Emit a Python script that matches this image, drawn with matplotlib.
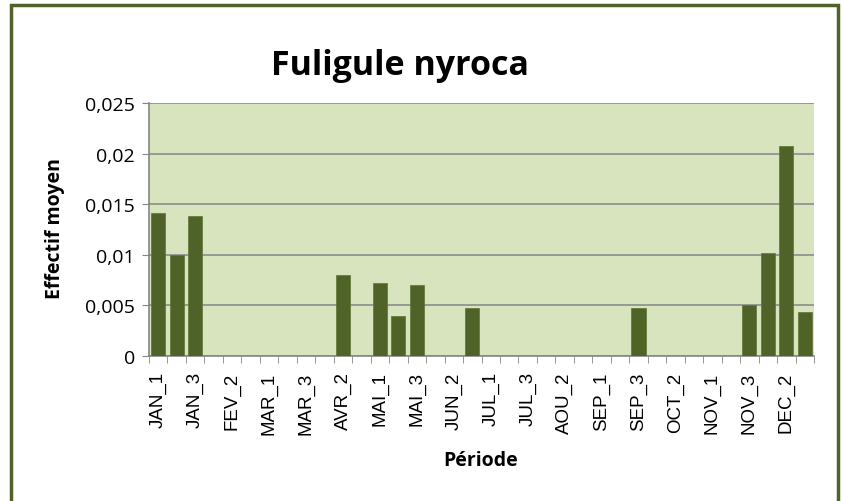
import numpy as np
import matplotlib.pyplot as plt
from matplotlib.patches import Rectangle

### données
mois = ["JAN", "FEV", "MAR", "AVR", "MAI", "JUN", "JUL", "AOU", "SEP", "OCT", "NOV", "DEC"]
periodes = [m + "_" + str(d) for m in mois for d in (1, 2, 3)]
effectif = [0.0141, 0.0100, 0.0138,   # JAN
            0, 0, 0,                  # FEV
            0, 0, 0,                  # MAR
            0, 0.0080, 0,             # AVR
            0.0072, 0.0040, 0.0070,   # MAI
            0, 0, 0.0047,             # JUN
            0, 0, 0,                  # JUL
            0, 0, 0,                  # AOU
            0, 0, 0.0047,             # SEP
            0, 0, 0,                  # OCT
            0, 0, 0.0050,             # NOV
            0.0102, 0.0208, 0.0043]   # DEC
yticks = [0, 0.005, 0.01, 0.015, 0.02, 0.025]
ytick_labels = ["0", "0,005", "0,01", "0,015", "0,02", "0,025"]

### figure
font = ["Open Sans", "DejaVu Sans"]
fig = plt.figure(figsize=(8.43, 5.02), dpi=100)
fig.patches.append(Rectangle((11 / 843, -0.05), 827 / 843, 1.05 - 6 / 502,
                             transform=fig.transFigure, fill=False,
                             edgecolor="#4F6228", linewidth=2.5))

ax = fig.add_axes([149 / 843, 145 / 502, 665 / 843, 253 / 502])
ax.set_facecolor("#D7E4BD")
x = np.arange(len(periodes))
ax.bar(x, effectif, width=0.76, color="#4F6228", edgecolor="#5E7530", linewidth=0.5, zorder=3)

ax.set_xlim(-0.5, len(periodes) - 0.5)
ax.set_ylim(0, 0.025)
ax.set_yticks(yticks)
ax.set_yticklabels(ytick_labels, fontsize=14, family=font)
ax.yaxis.grid(True, color="#8C8C8C", linewidth=1.2, zorder=1)

ax.set_xticks(x[::2])
ax.set_xticklabels(periodes[::2], rotation=90, fontsize=13.5, family=["Liberation Sans", "DejaVu Sans"])
ax.set_xticks(np.arange(-0.5, len(periodes)), minor=True)
ax.tick_params(axis="x", which="major", length=0, pad=11)
ax.tick_params(axis="x", which="minor", length=5, color="#868686")
ax.tick_params(axis="y", length=5, color="#868686", pad=5)

for s in ["top", "right"]:
    ax.spines[s].set_visible(False)
for s in ["left", "bottom"]:
    ax.spines[s].set_color("#868686")
    ax.spines[s].set_linewidth(1.2)

fig.text(400 / 843, 1 - 75 / 502, "Fuligule nyroca", ha="center", va="baseline",
         fontsize=24.5, fontweight="bold", family=font)
fig.text(55 / 843, 1 - 229 / 502, "Effectif moyen", ha="center", va="center", rotation=90,
         fontsize=14, fontweight="bold", family=font)
fig.text(481 / 843, 1 - 461 / 502, "Période", ha="center", va="center",
         fontsize=14, fontweight="bold", family=font)

fig.savefig("out.png", dpi=100)
